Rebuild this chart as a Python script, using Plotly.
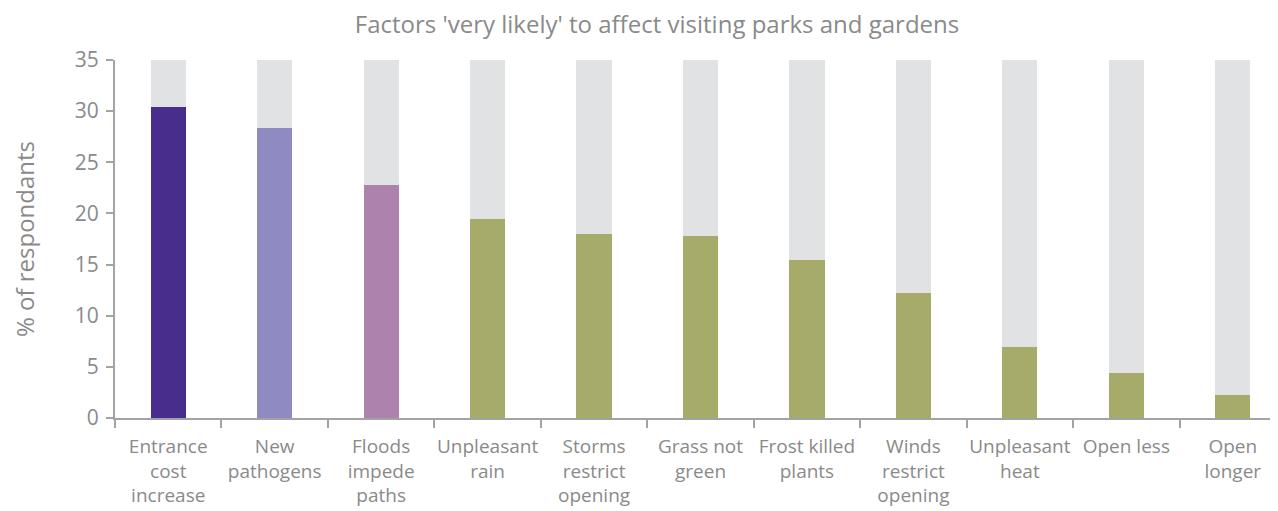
import plotly.graph_objects as go

categories = ["Entrance<br>cost<br>increase", "New<br>pathogens", "Floods<br>impede<br>paths",
              "Unpleasant<br>rain", "Storms<br>restrict<br>opening", "Grass not<br>green",
              "Frost killed<br>plants", "Winds<br>restrict<br>opening", "Unpleasant<br>heat",
              "Open less", "Open<br>longer"]
values = [30.4, 28.35, 22.8, 19.45, 18.0, 17.8, 15.45, 12.2, 6.95, 4.4, 2.25]
total = 35
bar_colors = ["#482d8c", "#8f8ac1", "#ad83ad"] + ["#a6ab6a"] * 8
remainder = [total - v for v in values]

fig = go.Figure()
fig.add_trace(go.Bar(x=categories, y=values, marker=dict(color=bar_colors, line=dict(width=0)),
                     width=0.33, showlegend=False))
fig.add_trace(go.Bar(x=categories, y=remainder, marker=dict(color="#e1e2e4", line=dict(width=0)),
                     width=0.33, showlegend=False))

W, H = 1278, 503
axis_col = "#a3a3a3"
text_col = "#8a8a8a"
fig.update_layout(
    barmode="stack",
    width=W, height=H,
    margin=dict(l=107, r=0, t=52, b=93),
    paper_bgcolor="white", plot_bgcolor="white",
    font=dict(family="Open Sans", color=text_col),
    title=dict(text="Factors 'very likely' to affect visiting parks and gardens",
               x=649/W, xanchor="center", y=1-17/H, yanchor="middle",
               font=dict(size=24, color=text_col)),
    xaxis=dict(showline=True, linecolor=axis_col, linewidth=2, ticks="outside",
               tickson="boundaries", ticklen=8, tickcolor=axis_col, tickwidth=2,
               tickfont=dict(size=19, color=text_col), showgrid=False, tickangle=0,
               ticklabelstandoff=10, automargin=False),
    yaxis=dict(range=[0, 35], dtick=5, showline=True, linecolor=axis_col, linewidth=2,
               ticks="outside", ticklen=7, tickcolor=axis_col, tickwidth=2,
               tickfont=dict(size=21, color=text_col), showgrid=False, zeroline=False,
               ticklabelstandoff=3, automargin=False,
               title=dict(text="% of respondants", font=dict(size=24, color=text_col), standoff=36)),
    bargap=0.67,
)
fig.write_html("out.html")
